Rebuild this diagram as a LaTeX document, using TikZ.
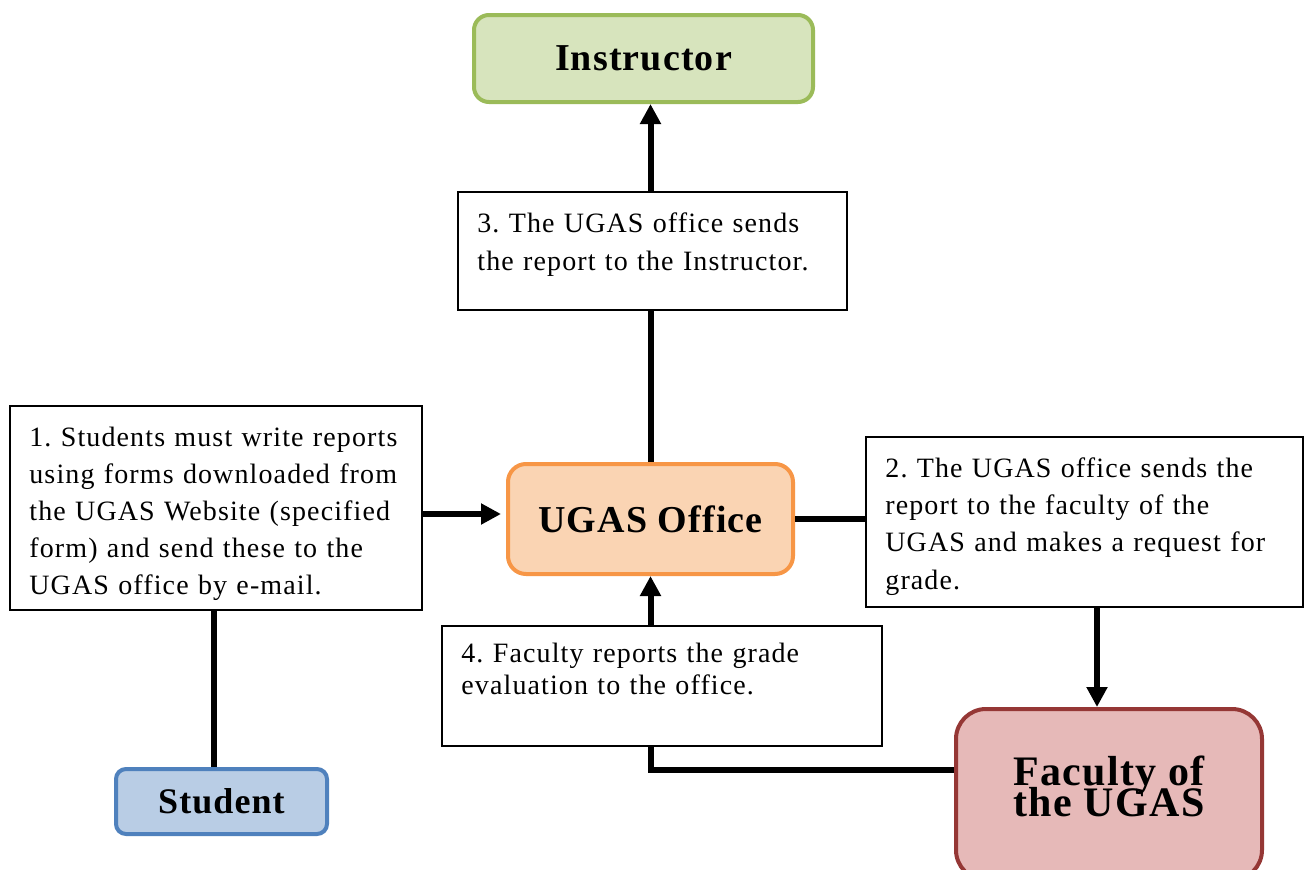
\documentclass[tikz,border=0pt]{standalone}
\usepackage{fontspec}
\setmainfont{Liberation Serif}
\newfontfamily\bodyfont[LetterSpace=4]{Liberation Serif}
\newfontfamily\headfont[LetterSpace=3]{Liberation Serif}
\usetikzlibrary{arrows.meta}
\definecolor{instrfill}{HTML}{D7E4BD}
\definecolor{instrdraw}{HTML}{9BBB59}
\definecolor{ugasfill}{HTML}{FAD4B3}
\definecolor{ugasdraw}{HTML}{F79646}
\definecolor{facfill}{HTML}{E6B9B8}
\definecolor{facdraw}{HTML}{953735}
\definecolor{stufill}{HTML}{B9CDE5}
\definecolor{studraw}{HTML}{4F81BD}
\frenchspacing
\newcommand\mytightlines{\lineskiplimit=-100pt\relax}
\tikzset{
  headbox/.style={draw, line width=4pt, rounded corners=15pt, align=center, inner sep=0pt, text=black},
  txtbox/.style={draw, line width=1.6pt, rectangle, inner sep=0pt, fill=white},
  txt/.style={anchor=base west, inner sep=0pt, align=left, text width=430pt},
  conn/.style={line width=6pt},
  arr/.style={conn, -{Triangle[length=20pt,width=20pt]}}
}
\begin{document}
\begin{tikzpicture}[x=1pt,y=-1pt]
\useasboundingbox (0,0) rectangle (1304,870);
\fill[white] (0,0) rectangle (1304,870);

% main boxes
\node[headbox, fill=instrfill, draw=instrdraw, minimum width=339pt, minimum height=87pt,
      font=\headfont\bfseries\fontsize{38}{40}\selectfont] (instr) at (643.5,58.5) {Instructor};
\node[headbox, fill=ugasfill, draw=ugasdraw, minimum width=285pt, minimum height=110pt, rounded corners=18pt,
      font=\headfont\bfseries\fontsize{38}{40}\selectfont] (ugas) at (650.5,519) {UGAS Office};
\node[headbox, fill=facfill, draw=facdraw, minimum width=306pt, minimum height=171pt, rounded corners=30pt,
      text depth=16pt,
      font={\mytightlines\headfont\bfseries\fontsize{42}{31}\selectfont}] (fac) at (1109,794.5) {Faculty of\\the UGAS};
\node[headbox, fill=stufill, draw=studraw, minimum width=211pt, minimum height=65pt, rounded corners=10pt,
      font=\headfont\bfseries\fontsize{36}{38}\selectfont] (stu) at (221.5,801.5) {Student};

% text boxes
\node[txtbox, minimum width=412pt, minimum height=204pt] (b1) at (216,508) {};
\node[txtbox, minimum width=437pt, minimum height=170pt] (b2) at (1084.5,522) {};
\node[txtbox, minimum width=389pt, minimum height=118pt] (b3) at (652.5,251) {};
\node[txtbox, minimum width=440pt, minimum height=120pt] (b4) at (662,686) {};

\node[txt, font=\bodyfont\fontsize{28}{37}\selectfont] (t1) at ([xshift=20pt,yshift=-41pt]b1.north west)
  {1. Students must write reports\\using forms downloaded from\\the UGAS Website (specified\\form) and send these to the\\UGAS office by e-mail.};
\node[txt, font=\bodyfont\fontsize{28}{37.3}\selectfont] (t2) at ([xshift=20pt,yshift=-41pt]b2.north west)
  {2. The UGAS office sends the\\report to the faculty of the\\UGAS and makes a request for\\grade.};
\node[txt, font=\bodyfont\fontsize{28}{38}\selectfont] (t3) at ([xshift=20pt,yshift=-41pt]b3.north west)
  {3. The UGAS office sends\\the report to the Instructor.};
\node[txt, font=\bodyfont\fontsize{28}{32}\selectfont] (t4) at ([xshift=20pt,yshift=-37pt]b4.north west)
  {4. Faculty reports the grade\\evaluation to the office.};

% connectors
\draw[conn] ([xshift=-2pt]b1.south) -- ([xshift=-2pt]b1.south |- stu.north);
\draw[arr, shorten >=5pt] ([yshift=-6pt]b1.east) -- ([yshift=-6pt]b1.east -| ugas.west);
\draw[conn] (ugas.east) -- (ugas.east -| b2.west);
\draw[arr] ([xshift=12.5pt]b2.south) -- ([xshift=12.5pt]b2.south |- fac.north);
\draw[arr] (b4.north -| ugas) -- (ugas.south);
\draw[conn] ([yshift=24.5pt]fac.west) -| (b4.south -| ugas);
\draw[conn] (ugas.north) -- (b3.south -| ugas);
\draw[arr] (b3.north -| ugas) -- (instr.south -| ugas);
\end{tikzpicture}
\end{document}
